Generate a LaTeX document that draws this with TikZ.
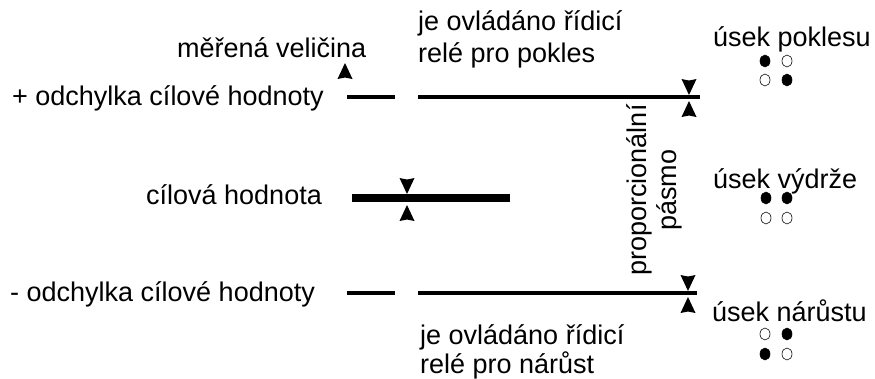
\documentclass[tikz,border=0pt]{standalone}
\usepackage{fontspec}
\setmainfont{Liberation Sans}
\usepackage{tikz}

\tikzset{
	lbl/.style={inner sep=0pt, anchor=base west},
	level/.style={line width=3.4pt},
	setpoint/.style={line width=8pt},
	lampon/.style={fill=black, draw=black, line width=0.6pt},
	lampoff/.style={draw=black, line width=0.6pt},
	tipdown/.pic={\fill (0,0) -- (-7.5,-16) -- (0,-14.5) -- (7.5,-16) -- cycle;},
	tipup/.pic={\fill (0,0) -- (-7.5,16) -- (0,14.5) -- (7.5,16) -- cycle;}
}

\begin{document}
\begin{tikzpicture}[x=1pt, y=-1pt, font=\fontsize{27}{30}\selectfont]
	\useasboundingbox (0,0) rectangle (875,378);

	% levels
	\node[lbl] (plus) at (12,105) {+ odchylka cílové hodnoty};
	\node[lbl] (target) at (146,204) {cílová hodnota};
	\node[lbl] (minus) at (10,301) {- odchylka cílové hodnoty};

	\coordinate (p1) at (347,97);  \coordinate (p2) at (395,97);
	\coordinate (p3) at (418,97);  \coordinate (p4) at (700,97);
	\coordinate (t1) at (352,198); \coordinate (t2) at (510,198);
	\coordinate (m1) at (347,293); \coordinate (m2) at (395,293);
	\coordinate (m3) at (418,293); \coordinate (m4) at (697,293);

	\draw[level] (p1) -- (p2);
	\draw[level] (p3) -- (p4);
	\draw[setpoint] (t1) -- (t2);
	\draw[level] (m1) -- (m2);
	\draw[level] (m3) -- (m4);

	% measured value
	\node[lbl] (meas) at (177,57) {měřená veličina};
	\fill (345,63) -- (337.5,79) -- (345,77.5) -- (352.5,79) -- cycle;

	% arrow marks
	\pic at (407,194) {tipdown};
	\pic at (407,205) {tipup};
	\pic at (689,95) {tipdown};
	\pic at (689,101) {tipup};
	\pic at (688,291) {tipdown};
	\pic at (688,297) {tipup};

	% relays
	\node[lbl] (relA) at (418,30) {je ovládáno řídicí};
	\node[lbl] (relB) at (418,62) {relé pro pokles};
	\node[lbl] (relC) at (420,344) {je ovládáno řídicí};
	\node[lbl] (relD) at (420,373) {relé pro nárůst};

	\node[inner sep=0pt, rotate=90, align=center] (band) at (654,190) {proporcionální\\pásmo};

	% sections
	\node[lbl] (down) at (713,46) {úsek poklesu};
	\node[lbl] (hold) at (713,188) {úsek výdrže};
	\node[lbl] (up) at (712,321) {úsek nárůstu};

	\draw[lampon]  (765,61) ellipse [x radius=5, y radius=6];
	\draw[lampoff] (787,61) ellipse [x radius=5, y radius=6];
	\draw[lampoff] (765,80) ellipse [x radius=5, y radius=6];
	\draw[lampon]  (787,80) ellipse [x radius=5, y radius=6];

	\draw[lampon]  (766,198) ellipse [x radius=5, y radius=6];
	\draw[lampon]  (787,198) ellipse [x radius=5, y radius=6];
	\draw[lampoff] (766,218) ellipse [x radius=5, y radius=6];
	\draw[lampoff] (787,218) ellipse [x radius=5, y radius=6];

	\draw[lampoff] (765,334) ellipse [x radius=5, y radius=6];
	\draw[lampon]  (787,334) ellipse [x radius=5, y radius=6];
	\draw[lampon]  (765,354) ellipse [x radius=5, y radius=6];
	\draw[lampoff] (787,354) ellipse [x radius=5, y radius=6];
\end{tikzpicture}
\end{document}
